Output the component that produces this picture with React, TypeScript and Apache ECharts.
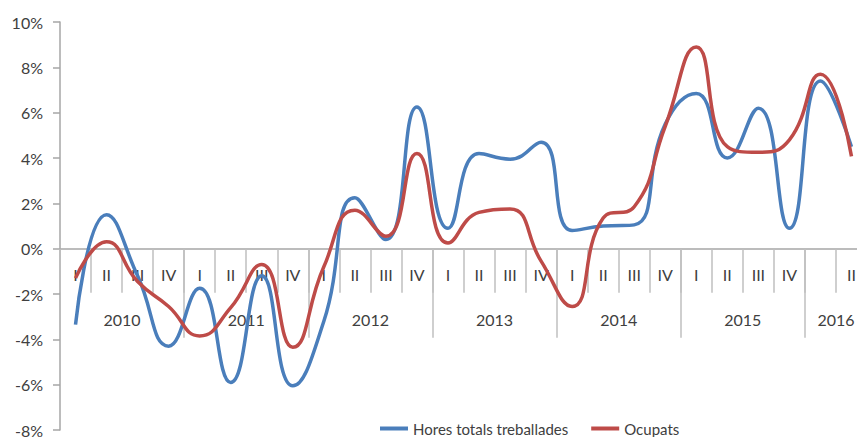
import React, { useEffect, useRef } from 'react';
import * as echarts from 'echarts';

const quarterLabels = [
  'I', 'II', 'III', 'IV',
  'I', 'II', 'III', 'IV',
  'I', 'II', 'III', 'IV',
  'I', 'II', 'III', 'IV',
  'I', 'II', 'III', 'IV',
  'I', 'II', 'III', 'IV',
  '', 'II',
];
const years = ['2010', '2011', '2012', '2013', '2014', '2015', '2016'];
const quartersPerYear = [4, 4, 4, 4, 4, 4, 2];

const horesTotals = [
  -3.35, 1.5, -1.2, -4.3, -1.75, -5.9, -1.2, -6.05,
  -3.2, 2.25, 0.4, 6.25, 0.9, 4.2, 3.95, 4.7,
  0.8, 1.0, 1.05, 5.5, 6.85, 4.0, 6.2, 0.9,
  7.4, 4.5,
];
const ocupats = [
  -1.3, 0.3, -1.45, -2.55, -3.85, -2.6, -0.7, -4.35,
  -0.8, 1.7, 0.55, 4.2, 0.25, 1.6, 1.75, -0.55,
  -2.55, 1.35, 1.85, 5.4, 8.9, 4.5, 4.25, 4.8,
  7.7, 4.07,
];

const seriesNames = ['Hores totals treballades', 'Ocupats'];
const yMin = -8;
const yMax = 10;
const yStep = 2;

const FONT = 'Lato';
const TEXT = '#404040';
const AXIS = '#A6A6A6';
const TICK = '#BFBFBF';
const BLUE = '#4A7EBB';
const RED = '#BE4B48';

const GRID_LEFT = 60;
const GRID_RIGHT = -10;
const GRID_TOP = 22;
const GRID_BOTTOM = 7;
const CHART_H = 437;

export default function App() {
  const ref = useRef<HTMLDivElement>(null);
  useEffect(() => {
    if (!ref.current) return;
    const chart = echarts.init(ref.current, null, { renderer: 'svg' });

    const nQ = quarterLabels.length;
    const yearAxisData: string[] = new Array(nQ + 1).fill('');
    const yearBoundaries: number[] = [];
    let start = 0;
    years.forEach((y, j) => {
      const c = quartersPerYear[j];
      yearAxisData[start + c / 2] = y;
      yearBoundaries.push(start);
      start += c;
    });

    // height of the plot above zero, so the category axes sit on the 0% line
    const plotH = CHART_H - GRID_TOP - GRID_BOTTOM;
    const aboveZero = (plotH * yMax) / (yMax - yMin);

    chart.setOption({
      animation: false,
      textStyle: { fontFamily: FONT, color: TEXT },
      grid: [
        { left: GRID_LEFT, right: GRID_RIGHT, top: GRID_TOP, bottom: GRID_BOTTOM, containLabel: false, outerBoundsMode: 'none' },
        { left: GRID_LEFT, right: GRID_RIGHT, top: GRID_TOP, height: aboveZero, containLabel: false, outerBoundsMode: 'none' },
      ],
      legend: {
        left: 375,
        top: 416,
        itemWidth: 28,
        itemHeight: 4,
        itemGap: 23,
        icon: 'rect',
        textStyle: { fontFamily: FONT, fontSize: 15, color: TEXT },
        data: seriesNames,
      },
      xAxis: [
        {
          gridIndex: 0,
          type: 'category',
          data: quarterLabels,
          boundaryGap: true,
          show: false,
        },
        {
          gridIndex: 1,
          type: 'category',
          data: quarterLabels,
          boundaryGap: true,
          position: 'bottom',
          axisLine: { show: true, onZero: false, lineStyle: { color: AXIS, width: 1.5 } },
          axisTick: { show: true, interval: 0, length: 44, lineStyle: { color: TICK, width: 1.5 } },
          axisLabel: { interval: 0, margin: 18, fontSize: 16, fontFamily: FONT, color: TEXT },
          splitLine: { show: false },
        },
        {
          gridIndex: 1,
          type: 'category',
          data: yearAxisData,
          boundaryGap: false,
          position: 'bottom',
          axisLine: { show: false, onZero: false },
          axisTick: {
            show: true,
            interval: (index: number) => index > 0 && yearBoundaries.indexOf(index) >= 0,
            length: 89,
            lineStyle: { color: TICK, width: 1.5 },
          },
          axisLabel: { interval: 0, margin: 63, fontSize: 16, fontFamily: FONT, color: TEXT },
          splitLine: { show: false },
        },
      ],
      yAxis: [
        {
          gridIndex: 0,
          type: 'value',
          min: yMin,
          max: yMax,
          interval: yStep,
          axisLine: { show: true, lineStyle: { color: AXIS, width: 1.5 } },
          axisTick: { show: true, length: 7, lineStyle: { color: AXIS, width: 1.5 } },
          axisLabel: {
            margin: 17,
            fontSize: 16,
            lineHeight: 13,
            fontFamily: FONT,
            color: TEXT,
            formatter: (v: number) => `${v}%`,
          },
          splitLine: { show: false },
        },
        {
          gridIndex: 1,
          type: 'value',
          min: 0,
          max: yMax,
          show: false,
          splitLine: { show: false },
        },
      ],
      series: [
        {
          name: seriesNames[0],
          type: 'line',
          xAxisIndex: 0,
          yAxisIndex: 0,
          data: horesTotals,
          smooth: 0.5,
          symbol: 'none',
          lineStyle: { color: BLUE, width: 3.5 },
          itemStyle: { color: BLUE },
          z: 3,
        },
        {
          name: seriesNames[1],
          type: 'line',
          xAxisIndex: 0,
          yAxisIndex: 0,
          data: ocupats,
          smooth: 0.5,
          symbol: 'none',
          lineStyle: { color: RED, width: 3.5 },
          itemStyle: { color: RED },
          z: 4,
        },
      ],
    });
    return () => chart.dispose();
  }, []);
  return (
    <div
      ref={ref}
      style={{ position: 'fixed', left: 0, top: 0, width: 857, height: 437, background: '#fff' }}
    />
  );
}
